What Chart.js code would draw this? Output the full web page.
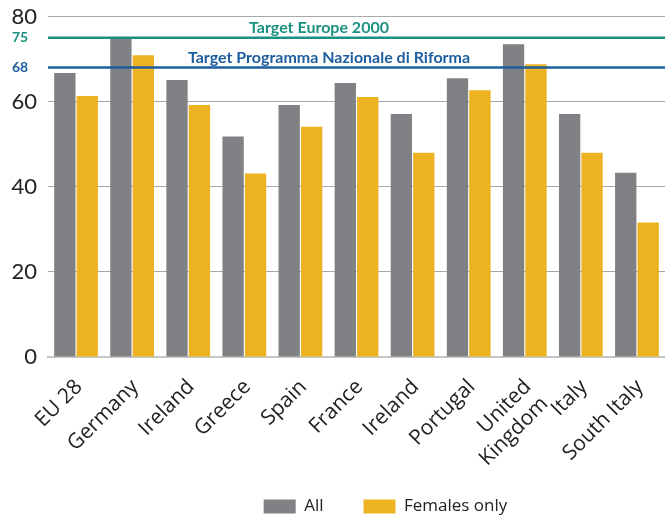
<!DOCTYPE html>
<html>
<head>
<meta charset="utf-8">
<script src="https://cdn.jsdelivr.net/npm/chart.js@4.4.1/dist/chart.umd.min.js"></script>
<style>
  html, body { margin: 0; padding: 0; background: #fff; }
  #wrap { width: 665px; height: 518px; }
</style>
</head>
<body>
<div id="wrap"><canvas id="employmentChart"></canvas></div>
<script>
// --- DATA ---
const categories = ['EU 28', 'Germany', 'Ireland', 'Greece', 'Spain', 'France', 'Ireland', 'Portugal', ['United', 'Kingdom'], 'Italy', 'South Italy'];
const allValues = [66.7, 74.8, 65.1, 51.8, 59.2, 64.4, 57.1, 65.5, 73.5, 57.1, 43.3];
const femaleValues = [61.3, 70.9, 59.2, 43.1, 54.1, 61.1, 48.0, 62.7, 68.8, 48.0, 31.6];
const yTicks = [0, 20, 40, 60, 80];
const targetValues = [75, 68];
const targetNames = ['Target Europe 2000', 'Target Programma Nazionale di Riforma'];

const FONT = 'Lato, "Open Sans", sans-serif';
const WIDE_FONT = '"Open Sans", Lato, sans-serif';
const targetColors = ['#1a9180', '#1d5d9e'];
const targetTextX = [319, 329];

// target lines + their labels, drawn over the bars
const targetPlugin = {
    id: 'targets',
    afterDatasetsDraw(chart) {
        const { ctx, chartArea, scales: { y } } = chart;
        ctx.save();
        targetValues.forEach((v, i) => {
            const py = y.getPixelForValue(v);
            ctx.strokeStyle = targetColors[i];
            ctx.lineWidth = 2.5;
            ctx.beginPath();
            ctx.moveTo(chartArea.left, py);
            ctx.lineTo(chartArea.right, py);
            ctx.stroke();

            ctx.fillStyle = targetColors[i];
            ctx.font = 'bold 16px ' + FONT;
            ctx.textAlign = 'center';
            ctx.textBaseline = 'bottom';
            ctx.fillText(targetNames[i], targetTextX[i], py - 2);

            ctx.font = 'bold 14px ' + FONT;
            ctx.textAlign = 'left';
            ctx.textBaseline = 'middle';
            ctx.fillText(String(v), 12, py);
        });
        ctx.restore();
    }
};

// keep the legend box short so the x labels get room, then move it into place
const legendPlace = {
    id: 'legendPlace',
    beforeLayout(chart) {
        const l = chart.legend;
        if (l && !l._shortFit) {
            const fit = l.fit;
            l.fit = function () { fit.call(this); this.height = 30; };
            l._shortFit = true;
        }
    },
    afterLayout(chart) {
        const l = chart.legend;
        l.left += 53; l.right += 53;
        l.top -= 30;
    }
};

const ctx = document.getElementById('employmentChart').getContext('2d');
const chart = new Chart(ctx, {
    type: 'bar',
    data: {
        labels: categories,
        datasets: [
            { label: 'All', data: allValues, backgroundColor: '#808184' },
            { label: 'Females only', data: femaleValues, backgroundColor: '#edb221' }
        ]
    },
    options: {
        responsive: true,
        maintainAspectRatio: false,
        animation: false,
        layout: { padding: { top: 16, right: 0, left: 0, bottom: 0 } },
        datasets: { bar: { categoryPercentage: 0.8, barPercentage: 0.95 } },
        plugins: {
            legend: {
                position: 'bottom',
                labels: {
                    boxWidth: 32, boxHeight: 14, padding: 40,
                    color: '#222', font: { family: WIDE_FONT, size: 17 }
                }
            },
            tooltip: { enabled: false }
        },
        scales: {
            x: {
                grid: { display: false },
                border: { color: '#c6c6c6', width: 2 },
                ticks: {
                    minRotation: 45, maxRotation: 45, autoSkip: false,
                    color: '#222', font: { family: WIDE_FONT, size: 21, lineHeight: 1.15 },
                    padding: 10, labelOffset: 3
                },
                afterFit(scale) { scale.height = 131; }
            },
            y: {
                min: 0, max: 80,
                afterBuildTicks(scale) { scale.ticks = yTicks.map(v => ({ value: v })); },
                grid: { color: '#a8a8a8', drawTicks: false },
                border: { display: false },
                ticks: { color: '#222', font: { family: FONT, size: 22, lineHeight: 0.5 }, padding: 11 },
                afterFit(scale) { scale.width = 48; }
            }
        }
    },
    plugins: [targetPlugin, legendPlace]
});
</script>
</body>
</html>
